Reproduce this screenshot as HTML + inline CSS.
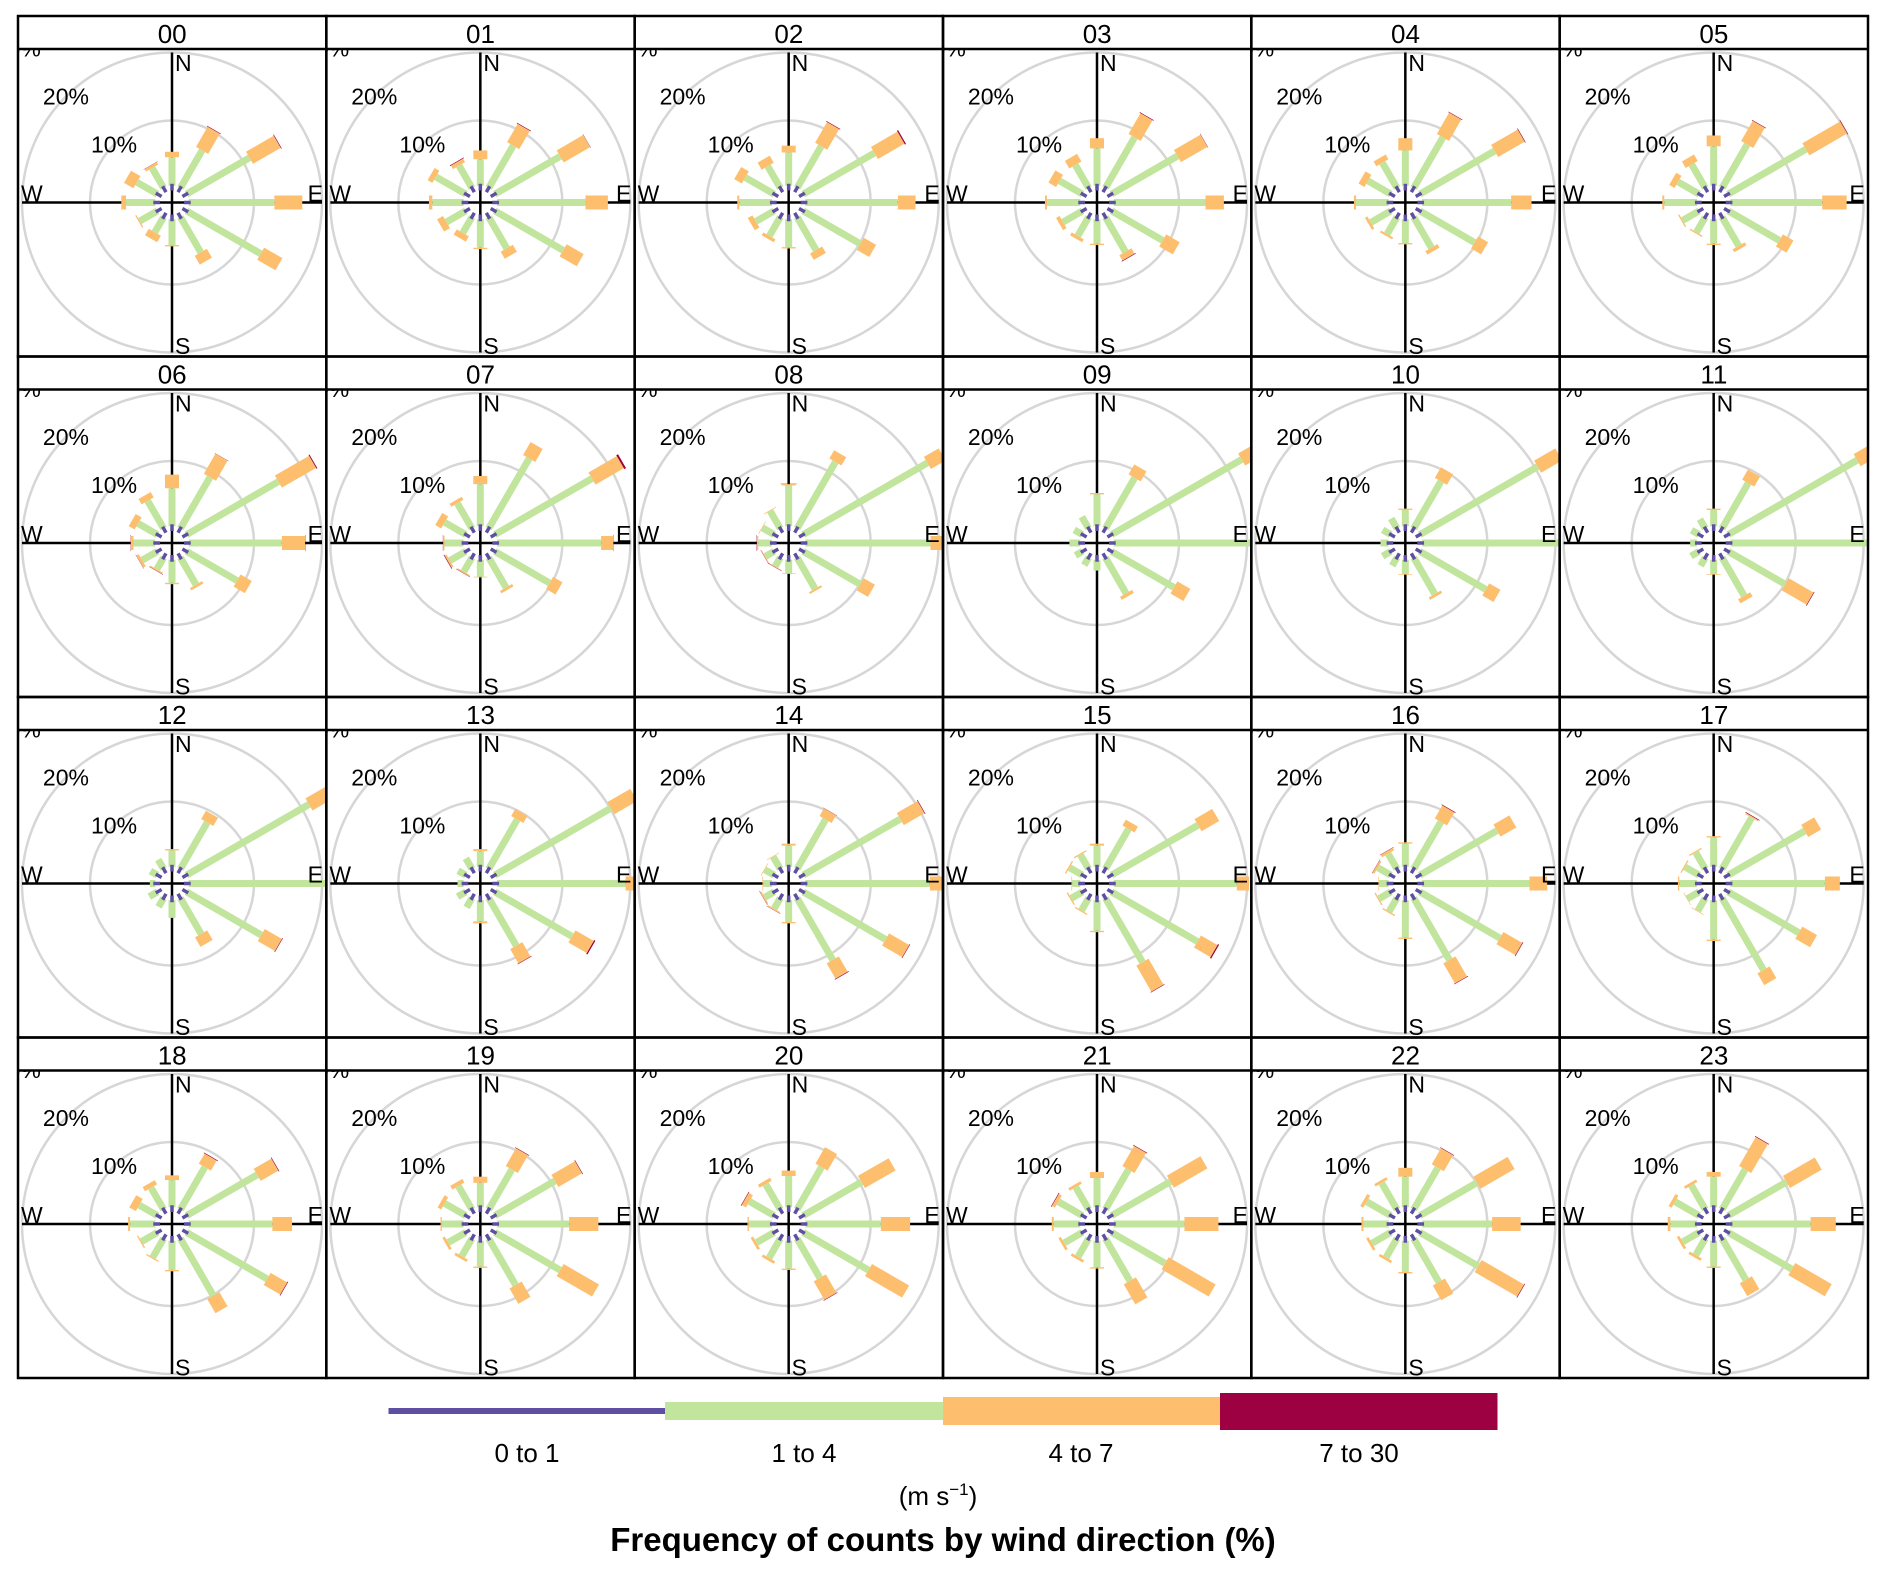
<!DOCTYPE html>
<html><head><meta charset="utf-8"><style>
html,body{margin:0;padding:0;background:#fff;}
svg{display:block;font-family:"Liberation Sans",Arial,sans-serif;}
</style></head><body>
<svg id="chart" width="1886" height="1575" viewBox="0 0 1886 1575" xmlns="http://www.w3.org/2000/svg">
<g id="panels"></g>
<g id="legend">
  <rect x="388.5" y="1408" width="276.5" height="6" fill="#5E4FA2"/>
  <rect x="665" y="1402" width="278" height="18" fill="#C2E59E"/>
  <rect x="943" y="1397" width="277" height="28" fill="#FDBE6E"/>
  <rect x="1220" y="1393" width="277.5" height="37" fill="#9E0142"/>
  <text x="527" y="1462" font-size="26" text-anchor="middle">0 to 1</text>
  <text x="804" y="1462" font-size="26" text-anchor="middle">1 to 4</text>
  <text x="1081" y="1462" font-size="26" text-anchor="middle">4 to 7</text>
  <text x="1359" y="1462" font-size="26" text-anchor="middle">7 to 30</text>
  <text x="938" y="1505" font-size="26" text-anchor="middle">(m s<tspan dy="-10" font-size="17">−1</tspan><tspan dy="10">)</tspan></text>
  <text x="943" y="1551" font-size="33" font-weight="bold" text-anchor="middle">Frequency of counts by wind direction (%)</text>
</g>
</svg>
<script>
const panelLabels = ["00","01","02","03","04","05","06","07","08","09","10","11","12","13","14","15","16","17","18","19","20","21","22","23"];
const directions = [0,30,60,90,120,150,180,210,240,270,300,330];
const ringTicks = [10,20,30];
const calm0to1 = [0.4,0.4,0.4,0.4,0.4,0.4,0.4,0.4,0.4,0.4,0.4,0.4,0.4,0.4,0.4,0.4,0.4,0.4,0.4,0.4,0.4,0.4,0.4,0.4];
const cum1to4 = [
[4.6,6.8,11.1,13.0,13.0,6.4,4.2,3.0,3.4,4.7,3.9,3.8],
[4.3,7.6,11.5,13.4,12.0,5.7,4.6,3.1,3.7,5.0,5.5,4.2],
[5.3,7.5,12.5,14.0,10.1,6.0,4.5,3.6,3.5,5.2,5.3,4.1],
[5.9,9.0,11.6,13.9,9.1,6.3,4.0,3.6,3.7,5.3,4.3,4.3],
[5.6,9.0,13.1,13.5,9.7,5.6,3.9,3.3,3.8,5.2,4.3,4.7],
[6.2,7.8,13.6,13.9,9.1,5.3,4.0,3.0,3.2,5.2,4.0,4.4],
[6.0,9.1,16.0,14.1,9.0,5.0,3.8,2.4,3.0,3.6,3.7,5.1],
[6.6,12.3,16.9,15.7,9.7,5.5,2.9,2.8,3.1,3.2,4.0,4.7],
[6.4,11.7,21.5,18.8,10.1,5.7,2.4,1.9,1.9,2.4,2.4,3.4],
[5.1,9.0,22.5,21.0,11.0,6.5,2.0,1.7,1.6,2.0,1.8,2.4],
[2.8,8.4,20.4,22.0,11.6,6.6,2.5,1.8,1.8,1.6,1.8,2.1],
[2.8,8.1,22.3,22.0,10.1,6.9,2.5,1.8,1.8,1.4,1.7,2.0],
[2.8,8.3,21.2,22.0,13.1,6.5,3.0,1.9,1.8,1.2,1.6,2.0],
[2.7,8.8,20.1,19.3,13.5,8.5,3.5,2.0,1.8,1.3,1.7,2.2],
[3.5,8.8,16.9,18.7,14.4,10.9,3.6,2.2,2.0,1.7,2.0,2.5],
[3.5,7.2,15.1,18.5,15.0,11.3,4.9,2.5,2.3,1.6,2.6,2.8],
[3.8,8.4,13.5,16.2,14.0,10.9,5.9,2.7,2.4,1.8,2.6,3.0],
[4.7,9.1,13.4,14.3,12.4,12.6,6.2,2.6,2.4,3.0,2.8,3.2],
[4.4,7.6,12.4,12.7,14.1,10.1,4.7,3.6,3.1,4.1,3.5,4.1],
[4.0,7.2,10.6,11.0,11.5,8.3,4.2,3.4,3.4,3.6,4.0,4.4],
[5.0,7.6,10.3,11.5,11.5,7.1,4.5,3.7,3.4,3.8,4.6,4.7],
[4.7,7.2,10.4,10.8,9.5,7.6,4.3,3.5,3.5,4.3,4.5,4.2],
[4.9,7.5,10.1,10.7,10.3,7.8,5.0,3.6,3.6,4.1,4.5,4.9],
[4.9,7.2,10.3,12.2,11.2,7.4,4.2,3.2,3.2,4.3,4.5,4.5]
];
const cum4to7 = [
[5.4,10.2,15.8,17.1,16.1,7.9,4.4,4.1,3.6,5.4,5.5,4.2],
[5.6,10.7,16.0,16.7,14.9,6.9,4.8,4.0,4.7,5.5,6.3,4.8],
[6.3,11.0,17.0,16.6,12.2,7.1,4.7,4.1,4.3,5.5,6.6,5.3],
[7.4,12.5,16.1,16.6,11.4,7.2,4.2,4.1,4.3,5.6,5.6,5.6],
[7.4,12.6,17.6,16.5,11.4,6.2,4.1,3.6,4.2,5.5,5.3,5.5],
[7.8,11.2,20.0,17.5,10.9,5.8,4.2,3.2,3.4,5.5,4.9,5.5],
[8.0,12.5,21.8,17.5,10.9,5.4,4.0,2.6,3.4,4.0,4.7,6.0],
[7.8,14.5,21.7,17.5,11.3,5.9,3.0,3.0,3.4,3.4,5.0,5.2],
[6.6,13.1,24.0,21.0,12.0,6.0,2.5,2.0,2.0,2.6,2.5,3.5],
[5.3,10.7,25.0,23.0,13.2,7.0,2.0,1.7,1.6,2.0,1.8,2.4],
[3.0,10.2,24.0,24.0,13.5,7.0,2.6,1.8,1.8,1.6,1.8,2.1],
[3.0,9.8,25.0,25.0,14.3,7.6,2.6,1.8,1.8,1.4,1.7,2.0],
[3.0,9.7,25.0,24.0,16.0,8.1,3.0,1.9,1.8,1.2,1.6,2.0],
[3.0,10.0,24.0,20.5,16.6,10.9,3.8,2.0,1.8,1.3,1.7,2.2],
[3.8,10.1,20.4,20.6,17.8,13.5,3.8,2.4,2.2,1.8,2.1,2.6],
[3.8,8.2,18.1,20.3,17.8,15.7,5.1,2.7,2.5,1.7,2.8,3.0],
[4.0,10.6,16.2,18.8,17.2,14.3,6.1,2.9,2.6,1.9,2.9,3.4],
[4.9,9.3,15.6,16.5,14.9,14.6,6.4,2.7,2.5,3.2,3.0,3.4],
[5.1,9.3,15.4,15.6,16.9,12.5,4.9,3.8,3.3,4.4,4.6,4.8],
[4.9,10.2,14.6,15.3,17.5,10.9,4.4,3.8,3.8,3.8,4.6,5.0],
[5.8,10.4,15.5,15.8,17.8,10.2,4.7,4.1,3.8,4.0,5.3,5.2],
[5.6,10.6,16.1,15.8,17.5,11.0,4.5,3.9,3.9,4.6,5.0,4.6],
[6.2,10.2,15.9,14.9,17.5,10.3,5.2,4.0,4.0,4.4,5.0,5.3],
[5.6,12.1,15.7,15.9,17.4,9.6,4.4,3.6,3.6,4.7,5.0,4.9]
];
const ws7to30 = [
[0,0.1,0.1,0,0,0,0,0,0,0,0,0.05],
[0,0.1,0.05,0,0,0,0,0,0,0,0,0.1],
[0,0.1,0.2,0,0,0,0,0,0,0,0,0],
[0,0.1,0.05,0,0,0.1,0,0,0,0,0,0],
[0,0.1,0.1,0,0,0,0,0,0,0,0,0],
[0,0.1,0.1,0,0,0,0,0,0,0,0,0],
[0,0.05,0.15,0.05,0,0,0,0.05,0.05,0.05,0,0],
[0,0,0.3,0.05,0,0,0,0.05,0.1,0.05,0,0],
[0.05,0,0,0,0,0,0,0.05,0.05,0.05,0,0],
[0,0,0,0,0,0,0,0,0,0,0,0],
[0,0,0,0,0,0,0,0,0,0,0,0],
[0,0,0,0,0.1,0,0,0,0,0,0,0],
[0,0,0,0,0.1,0,0,0,0,0,0,0],
[0,0,0,0,0.2,0.1,0,0,0,0,0,0],
[0,0.05,0.1,0,0.1,0.1,0,0.05,0.05,0,0,0],
[0,0,0,0,0.2,0.1,0,0,0,0,0,0],
[0,0.1,0,0,0.1,0.1,0,0,0,0,0.05,0.05],
[0,0.1,0,0,0,0,0,0,0,0,0,0],
[0,0.1,0.1,0,0.1,0,0,0,0,0,0,0],
[0,0.1,0.1,0,0,0,0,0,0,0,0,0],
[0,0,0,0,0,0.1,0,0,0,0,0.1,0],
[0,0.1,0,0,0,0,0,0,0,0,0.1,0],
[0,0.1,0,0,0.1,0,0,0,0,0,0,0],
[0,0.1,0,0,0,0,0,0,0,0,0,0]
];

const NS = "http://www.w3.org/2000/svg";
const X0 = 18, Y0 = 16, COLW = (1868 - 18) / 6, ROWH = (1378 - 16) / 4, STRIP = 33;
const OFFSET = 14, PERPCT = 6.8;
function rad(p){ return OFFSET + PERPCT * p; }
function mk(tag, attrs){ const e = document.createElementNS(NS, tag); for (const k in attrs) e.setAttribute(k, attrs[k]); return e; }
const root = document.getElementById('panels');
const defs = mk('defs', {});
root.appendChild(defs);

function seg(g, cx, cy, ang, r0, r1, w, col, name){
  if (r1 - r0 <= 0.01) return;
  const a = ang * Math.PI / 180, sx = Math.sin(a), sy = -Math.cos(a);
  const l = mk('line', {x1: cx + sx*r0, y1: cy + sy*r0, x2: cx + sx*r1, y2: cy + sy*r1, stroke: col, 'stroke-width': w});
  
  
  g.appendChild(l);
}

panelLabels.forEach((lab, i) => {
  const c = i % 6, r = Math.floor(i / 6);
  const left = X0 + c * COLW, top = Y0 + r * ROWH;
  const ptop = top + STRIP;
  const cx = left + 154, cy = ptop + 153.5;
  const g = mk('g', {});
  
  
  const cp = mk('clipPath', {id: 'cp' + i});
  cp.appendChild(mk('rect', {x: left, y: ptop, width: COLW, height: ROWH - STRIP}));
  defs.appendChild(cp);
  const inner = mk('g', {'clip-path': 'url(#cp' + i + ')'});
  g.appendChild(inner);
  ringTicks.forEach(t => {
    const ring = mk('circle', {cx: cx, cy: cy, r: rad(t), fill: 'none', stroke: '#d6d6d6', 'stroke-width': 2.5});
    
    
    inner.appendChild(ring);
    const d = rad(t) * Math.SQRT1_2;
    const tl = mk('text', {x: cx - d, y: cy - d + 8, 'font-size': 23, 'text-anchor': 'middle'});
    tl.textContent = t + '%';
    
    
    inner.appendChild(tl);
  });
  inner.appendChild(mk('line', {x1: cx, y1: cy - 150, x2: cx, y2: cy + 150, stroke: '#000', 'stroke-width': 2.5}));
  inner.appendChild(mk('line', {x1: cx - 150, y1: cy, x2: cx + 150, y2: cy, stroke: '#000', 'stroke-width': 2.5}));
  directions.forEach((ang, k) => {
    const p = calm0to1[i], G = cum1to4[i][k], O = cum4to7[i][k], R = ws7to30[i][k];
    seg(inner, cx, cy, ang, rad(O), rad(O + R), 16, '#9E0142', 'bar-7to30-' + ang);
    seg(inner, cx, cy, ang, rad(G), rad(O), 14, '#FDBE6E', 'bar-4to7-' + ang);
    seg(inner, cx, cy, ang, rad(p), rad(G), 7, '#C2E59E', 'bar-1to4-' + ang);
    seg(inner, cx, cy, ang, rad(0) - 2, rad(p) + 2, 3.5, '#5E4FA2', 'bar-0to1-' + ang);
  });
  const lbls = [['N', cx + 3, ptop + 22, 'start'], ['E', cx + 151, cy - 1, 'end'], ['W', left + 3, cy - 1, 'start'], ['S', cx + 3, ptop + 305, 'start']];
  lbls.forEach(L => {
    const t = mk('text', {x: L[1], y: L[2], 'font-size': 23, 'text-anchor': L[3]});
    t.textContent = L[0];
    
    
    inner.appendChild(t);
  });
  const st = mk('text', {x: left + COLW / 2, y: top + 27, 'font-size': 26, 'text-anchor': 'middle'});
  st.textContent = lab;
  
  
  g.appendChild(st);
  g.appendChild(mk('line', {x1: left, y1: ptop, x2: left + COLW, y2: ptop, stroke: '#000', 'stroke-width': 2.5}));
  g.appendChild(mk('rect', {x: left, y: top, width: COLW, height: ROWH, fill: 'none', stroke: '#000', 'stroke-width': 2.5}));
  root.appendChild(g);
});
</script>
</body></html>
